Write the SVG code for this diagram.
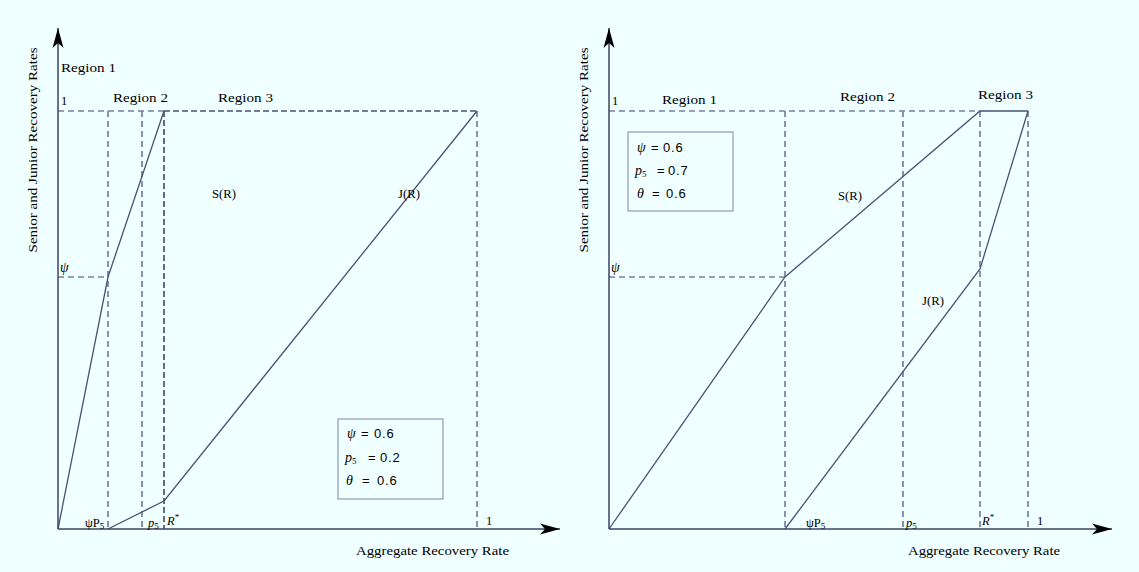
<svg xmlns="http://www.w3.org/2000/svg" width="1139" height="572" viewBox="0 0 1139 572">
<style>
text{font-family:"Liberation Serif","Times New Roman",serif;font-size:12.5px;fill:#000}
.it{font-style:italic}
.big{font-size:14px}
.sub{font-size:9px}
.num{font-family:"Liberation Sans",Arial,sans-serif;font-size:13px;letter-spacing:0.8px}
.axis{stroke:#3c4560;stroke-width:1.5;fill:none}
.dash{stroke:#74819f;stroke-width:1.7;stroke-dasharray:6 4;fill:none}
.dashd{stroke:#4a5270;stroke-width:1.7;stroke-dasharray:6 3;fill:none}
.curve{stroke:#4a5274;stroke-width:1.3;fill:none}
.box{fill:none;stroke:#8f9bb8;stroke-width:1.2}
</style>
<defs>
<marker id="ah" viewBox="0 0 20 12" refX="20" refY="6" markerWidth="20" markerHeight="12" markerUnits="userSpaceOnUse" orient="auto">
<path d="M0,0.5 L20,6 L0,11.5 L5,6 Z" fill="#000"/>
</marker>
</defs>
<rect width="1139" height="572" fill="#f0ffff"/>

<g id="left-panel">
<g id="left-guides">
<line class="dash" x1="58" y1="111" x2="164" y2="111"/>
<line class="dashd" x1="164" y1="111" x2="477" y2="111"/>
<line class="dash" x1="58" y1="277" x2="108" y2="277"/>
<line class="dash" x1="108" y1="111" x2="108" y2="529"/>
<line class="dash" x1="142" y1="111" x2="142" y2="529"/>
<line class="dashd" x1="164" y1="111" x2="164" y2="529"/>
<line class="dash" x1="477" y1="111" x2="477" y2="529"/>
</g>
<g id="left-curves">
<polyline class="curve" points="58,529 108,277 164,111"/>
<polyline class="curve" points="108,529 164,501 477,111"/>
</g>
<g id="left-axes">
<line class="axis" x1="58" y1="529" x2="58" y2="28" marker-end="url(#ah)"/>
<line class="axis" x1="58" y1="529" x2="560" y2="529" marker-end="url(#ah)"/>
</g>
<g id="left-labels">
<text x="37" y="150" text-anchor="middle" transform="rotate(-90 37 150)" textLength="205" lengthAdjust="spacingAndGlyphs">Senior and Junior Recovery Rates</text>
<text x="61" y="72" textLength="55" lengthAdjust="spacingAndGlyphs">Region 1</text>
<text x="61" y="105">1</text>
<text x="113" y="102" textLength="55" lengthAdjust="spacingAndGlyphs">Region 2</text>
<text x="218" y="102" textLength="55" lengthAdjust="spacingAndGlyphs">Region 3</text>
<text x="60" y="272" class="it big">ψ</text>
<text x="212" y="198" textLength="24" lengthAdjust="spacingAndGlyphs">S(R)</text>
<text x="398" y="198" textLength="22" lengthAdjust="spacingAndGlyphs">J(R)</text>
<text x="85" y="527">ψP<tspan class="sub" dy="2">5</tspan></text>
<text x="148" y="527"><tspan class="it">p</tspan><tspan class="sub" dy="2">5</tspan></text>
<text x="167" y="525"><tspan class="it">R</tspan><tspan class="sub" dy="-5">*</tspan></text>
<text x="486" y="525">1</text>
<text x="356" y="555" textLength="153" lengthAdjust="spacingAndGlyphs">Aggregate Recovery Rate</text>
</g>
<g id="left-legend">
<rect class="box" x="338" y="419" width="105" height="80"/>
<text x="347" y="438"><tspan class="it big">ψ</tspan><tspan class="num" x="361">=</tspan><tspan class="num" x="374">0.6</tspan></text>
<text x="345" y="462"><tspan class="it big">p</tspan><tspan class="sub" dy="2">5</tspan><tspan class="num" x="368" dy="-2">=</tspan><tspan class="num" x="380">0.2</tspan></text>
<text x="346" y="485"><tspan class="it big">θ</tspan><tspan class="num" x="362">=</tspan><tspan class="num" x="377">0.6</tspan></text>
</g>
</g>

<g id="right-panel">
<g id="right-guides">
<line class="dash" x1="609" y1="111" x2="980" y2="111"/>
<line class="dash" x1="609" y1="277" x2="785" y2="277"/>
<line class="dash" x1="785" y1="111" x2="785" y2="529"/>
<line class="dash" x1="903" y1="111" x2="903" y2="529"/>
<line class="dash" x1="980" y1="111" x2="980" y2="529"/>
<line class="dash" x1="1028" y1="111" x2="1028" y2="529"/>
</g>
<g id="right-curves">
<polyline class="curve" points="609,529 785,277 980,111 1028,111"/>
<polyline class="curve" points="785,529 980,269 1028,111"/>
</g>
<g id="right-axes">
<line class="axis" x1="609" y1="529" x2="609" y2="28" marker-end="url(#ah)"/>
<line class="axis" x1="609" y1="529" x2="1112" y2="529" marker-end="url(#ah)"/>
</g>
<g id="right-labels">
<text x="588" y="150" text-anchor="middle" transform="rotate(-90 588 150)" textLength="205" lengthAdjust="spacingAndGlyphs">Senior and Junior Recovery Rates</text>
<text x="612" y="105">1</text>
<text x="662" y="104" textLength="55" lengthAdjust="spacingAndGlyphs">Region 1</text>
<text x="840" y="101" textLength="55" lengthAdjust="spacingAndGlyphs">Region 2</text>
<text x="978" y="99" textLength="55" lengthAdjust="spacingAndGlyphs">Region 3</text>
<text x="611" y="272" class="it big">ψ</text>
<text x="838" y="200" textLength="24" lengthAdjust="spacingAndGlyphs">S(R)</text>
<text x="922" y="305" textLength="22" lengthAdjust="spacingAndGlyphs">J(R)</text>
<text x="806" y="527">ψP<tspan class="sub" dy="2">5</tspan></text>
<text x="906" y="527"><tspan class="it">p</tspan><tspan class="sub" dy="2">5</tspan></text>
<text x="982" y="525"><tspan class="it">R</tspan><tspan class="sub" dy="-5">*</tspan></text>
<text x="1037" y="525">1</text>
<text x="908" y="555" textLength="152" lengthAdjust="spacingAndGlyphs">Aggregate Recovery Rate</text>
</g>
<g id="right-legend">
<rect class="box" x="628" y="132" width="105" height="79"/>
<text x="637" y="152"><tspan class="it big">ψ</tspan><tspan class="num" x="651">=</tspan><tspan class="num" x="663">0.6</tspan></text>
<text x="635" y="175"><tspan class="it big">p</tspan><tspan class="sub" dy="2">5</tspan><tspan class="num" x="657" dy="-2">=</tspan><tspan class="num" x="668">0.7</tspan></text>
<text x="637" y="198"><tspan class="it big">θ</tspan><tspan class="num" x="652">=</tspan><tspan class="num" x="666">0.6</tspan></text>
</g>
</g>
</svg>
